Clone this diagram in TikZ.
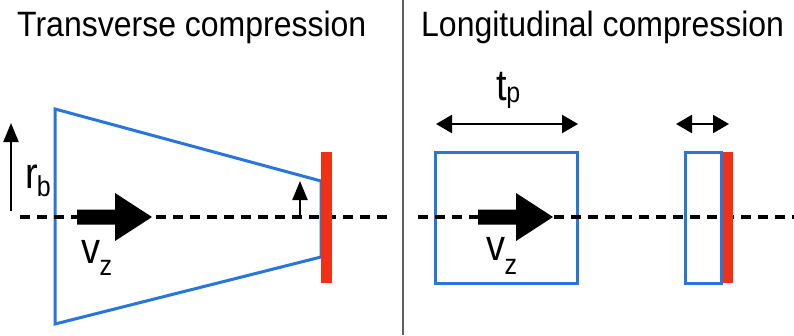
\documentclass[tikz,border=0pt]{standalone}
\usepackage{fontspec}
\setmainfont{Liberation Sans}
\usetikzlibrary{arrows.meta}
\definecolor{beamblue}{RGB}{38,118,222}
\definecolor{wallred}{RGB}{242,48,22}
\definecolor{divgray}{RGB}{95,95,95}
\newcommand{\subtxt}[2]{\raisebox{-#1}{\fontsize{25}{28}\selectfont #2}}
\begin{document}
\begin{tikzpicture}[x=1pt,y=-1pt,
  title/.style={inner sep=0pt,anchor=base west,yscale=1.1,font=\fontsize{32}{38}\selectfont},
  bigsym/.style={inner sep=0pt,anchor=base west,yscale=1.15,font=\fontsize{38}{44}\selectfont},
  beamline/.style={draw=beamblue,line width=3pt,line join=miter},
  wall/.style={fill=wallred,draw=none},
  axis/.style={black,line width=3.2pt,dash pattern=on 10pt off 7pt},
  bigarrow/.style={fill=black,draw=none},
  dimarrow/.style={line width=2.2pt,{Triangle[length=16pt,width=18pt]}-{Triangle[length=16pt,width=18pt]}},
  uparrow/.style={line width=2.2pt,-{Triangle[length=19pt,width=15pt]}}
]
\useasboundingbox (0,0) rectangle (794,335);
\fill[white] (0,0) rectangle (794,335);

% titles
\node[title] (t1) at (17,36) {Transverse compression};
\node[title] (t2) at (421,36) {Longitudinal compression};

% divider
\coordinate (dtop) at (403,0);
\coordinate (dbot) at (403,335);
\draw[divgray,line width=2pt] (dtop) -- (dbot);

% ---------- left: transverse ----------
\draw[beamline] (55,109) -- (321,181) -- (321,257) -- (55,324) -- cycle;
\coordinate (axL1) at (20,217);
\coordinate (axL2) at (394,217);
\draw[axis] (axL1) -- (axL2);
\fill[wall] (321,152) rectangle (332,283);

% r_b arrow
\coordinate (rb0) at (11,211);
\coordinate (rb1) at (11,123);
\draw[uparrow] (rb0) -- (rb1);
\node[bigsym] (rb) at (25,188) {r\kern-1pt\subtxt{7.8pt}{b}};

% small arrow at the wall
\coordinate (sa0) at (300,218);
\coordinate (sa1) at (300,181);
\draw[uparrow] (sa0) -- (sa1);

% velocity arrow left
\fill[bigarrow] (77,209.5) -- (115,209.5) -- (115,193) -- (152,217) -- (115,241) -- (115,224.5) -- (77,224.5) -- cycle;
\node[bigsym] (vzL) at (81,263) {v\kern-0.5pt\subtxt{10.5pt}{z}};

% ---------- right: longitudinal ----------
\draw[beamline] (435,152) rectangle (577,283);
\draw[beamline] (685,152) rectangle (721,283);
\coordinate (axR1) at (418,217);
\coordinate (axR2) at (794,217);
\draw[axis] (axR1) -- (axR2);
\fill[wall] (723,152) rectangle (733,283);

% t_p arrow
\coordinate (tp0) at (436,124);
\coordinate (tp1) at (578,124);
\draw[dimarrow] (tp0) -- (tp1);
\node[bigsym] (tp) at (496,100) {t\kern-0.5pt\subtxt{2pt}{p}};

% short arrow
\coordinate (sp0) at (676,124);
\coordinate (sp1) at (729,124);
\draw[dimarrow] (sp0) -- (sp1);

% velocity arrow right
\fill[bigarrow] (478,209.5) -- (516,209.5) -- (516,193) -- (553,217) -- (516,241) -- (516,224.5) -- (478,224.5) -- cycle;
\node[bigsym] (vzR) at (486,260) {v\kern-0.5pt\subtxt{13pt}{z}};
\end{tikzpicture}
\end{document}
